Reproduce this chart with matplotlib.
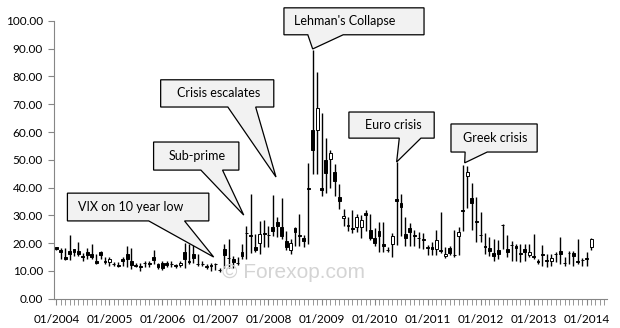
import matplotlib.pyplot as plt
from matplotlib.patches import Polygon

# monthly candles, first candle sits on the 01/2004 tick
opens = [18.5, 17.5, 15.1, 17.1, 17.9, 17.1, 15.5, 16.7, 16.0, 13.4, 16.9, 13.5,
         13.1, 12.6, 12.0, 14.3, 16.1, 13.7, 12.0, 11.7, 12.9, 12.9, 14.9, 12.5,
         12.7, 12.9, 12.6, 12.0, 12.1, 16.7, 13.5, 16.1, 12.6, 12.6, 11.4, 12.1,
         12.6, 10.5, 17.9, 14.7, 14.3, 12.9, 16.7, 23.7, 22.8, 18.7, 20.1, 23.6,
         23.1, 25.7, 27.5, 25.7, 20.9, 17.5, 25.4, 22.8, 21.9, 39.8, 60.7, 60.7,
         39.7, 49.9, 50.2, 45.5, 36.5, 29.1, 26.1, 25.4, 25.9, 25.9, 30.7, 24.6,
         21.8, 24.5, 19.8, 17.6, 19.8, 35.8, 34.5, 23.2, 25.3, 22.8, 21.9, 21.5,
         18.6, 18.7, 17.8, 17.4, 15.4, 18.2, 15.8, 22.6, 31.9, 44.3, 36.3, 27.8,
         23.1, 18.8, 18.3, 16.4, 17.5, 26.7, 17.9, 19.4, 19.1, 16.4, 17.9, 15.8,
         15.2, 13.4, 16.1, 13.8, 13.7, 16.2, 17.1, 13.0, 16.6, 16.6, 13.4, 14.0,
         14.6, 18.5]
highs = [18.7, 18.4, 18.1, 22.9, 18.0, 20.5, 16.5, 18.3, 19.8, 16.1, 17.0, 14.9,
         14.9, 13.1, 13.1, 14.9, 19.1, 18.1, 12.8, 12.8, 13.7, 13.7, 17.5, 12.9,
         13.7, 13.7, 13.7, 12.5, 13.7, 19.9, 19.7, 19.4, 16.1, 13.7, 12.5, 12.8,
         12.8, 11.2, 19.7, 21.5, 15.5, 14.9, 19.7, 26.3, 37.7, 23.3, 28.1, 28.5,
         26.3, 37.5, 29.3, 36.1, 24.5, 21.5, 25.7, 30.5, 23.0, 48.8, 89.6, 81.7,
         66.8, 57.8, 53.5, 48.6, 41.3, 32.3, 29.3, 32.0, 30.5, 30.0, 31.9, 30.5,
         25.3, 27.5, 27.5, 18.5, 23.5, 49.1, 37.7, 29.5, 27.3, 24.7, 24.1, 23.8,
         19.3, 20.5, 24.7, 31.3, 18.5, 18.9, 24.7, 25.9, 48.1, 47.8, 41.5, 36.5,
         31.1, 23.8, 22.1, 21.5, 21.2, 27.0, 23.0, 20.9, 19.7, 19.7, 19.7, 19.7,
         23.3, 14.3, 19.4, 16.1, 16.1, 16.7, 22.1, 14.9, 17.3, 17.3, 21.5, 14.6,
         16.7, 21.9]
lows = [17.5, 14.3, 13.9, 13.9, 15.4, 15.3, 13.7, 14.4, 14.3, 12.5, 14.4, 12.5,
        11.9, 11.9, 11.3, 11.9, 11.3, 10.7, 11.3, 9.9, 11.3, 11.3, 12.5, 10.7,
        10.4, 11.3, 11.3, 11.1, 11.3, 11.0, 12.5, 12.7, 11.9, 11.9, 10.7, 9.9,
        10.4, 9.7, 11.2, 11.2, 11.2, 12.2, 14.3, 14.3, 16.4, 16.7, 16.1, 18.5,
        18.5, 22.7, 22.1, 21.5, 17.5, 16.1, 19.1, 19.1, 18.5, 19.7, 44.9, 44.9,
        37.1, 37.9, 40.0, 37.1, 32.3, 26.3, 24.5, 23.7, 23.9, 22.0, 24.5, 21.0,
        18.8, 16.9, 16.9, 16.9, 15.1, 19.3, 22.4, 19.1, 19.1, 19.1, 18.1, 17.8,
        15.7, 15.7, 15.7, 16.6, 14.7, 15.7, 15.1, 15.7, 24.3, 32.5, 24.6, 20.3,
        20.3, 16.1, 15.2, 13.7, 14.3, 17.9, 14.9, 13.7, 13.7, 13.1, 13.7, 14.9,
        14.3, 12.5, 11.9, 11.3, 11.9, 13.1, 12.5, 11.9, 12.5, 11.9, 12.5, 11.9,
        11.9, 17.6]
closes = [17.9, 16.9, 14.4, 16.2, 16.8, 16.2, 14.9, 15.6, 15.0, 12.7, 15.9, 13.2,
          14.3, 12.4, 11.8, 13.7, 14.3, 12.3, 11.8, 11.5, 12.7, 12.5, 14.0, 11.3,
          11.1, 12.1, 12.4, 11.8, 12.7, 14.3, 13.2, 14.7, 12.4, 12.4, 11.6, 11.9,
          12.4, 10.3, 15.8, 14.5, 13.1, 12.7, 15.5, 23.5, 22.6, 17.5, 23.3, 23.4,
          22.9, 24.3, 26.3, 22.7, 18.7, 20.1, 23.9, 22.6, 20.7, 39.6, 53.5, 68.6,
          39.2, 45.3, 52.6, 42.5, 35.3, 29.9, 26.5, 25.1, 29.3, 28.4, 30.3, 22.0,
          20.2, 22.6, 19.0, 17.4, 22.6, 35.3, 32.9, 21.9, 23.9, 22.6, 21.7, 21.3,
          18.4, 17.8, 21.1, 17.2, 16.0, 16.3, 15.6, 24.1, 31.5, 45.5, 34.4, 27.5,
          22.9, 18.6, 17.1, 15.4, 16.1, 26.5, 16.7, 19.2, 18.3, 16.2, 16.7, 16.7,
          15.0, 13.2, 15.9, 13.6, 14.5, 16.0, 16.1, 12.8, 16.4, 15.5, 13.2, 13.8,
          14.4, 21.5]

year_labels = ["01/2004", "01/2005", "01/2006", "01/2007", "01/2008", "01/2009",
               "01/2010", "01/2011", "01/2012", "01/2013", "01/2014"]

# callouts: text, text x, box (x0, x1, y0, y1), tail base (xa, xb), tip (x, y)
callouts = [
    ("VIX on 10 year low", 4.8, (2.5, 34.5, 28.0, 38.0), (20.9, 29.0), (35.6, 15.0)),
    ("Sub-prime", 25.4, (22.0, 41.3, 46.3, 56.4), (32.7, 37.6), (42.4, 30.1)),
    ("Crisis escalates", 27.4, (23.6, 49.2, 69.0, 78.8), (38.8, 45.1), (49.7, 43.8)),
    ("Lehman's Collapse", 53.7, (51.5, 83.2, 95.0, 104.7), (56.9, 64.9), (58.0, 89.9)),
    ("Euro crisis", 69.8, (66.2, 85.5, 57.8, 67.2), (77.6, 82.5), (77.0, 49.2)),
    ("Greek crisis", 92.1, (89.3, 108.8, 52.8, 62.9), (92.5, 97.5), (92.4, 48.9)),
]

fig = plt.figure(figsize=(6.2, 3.28), dpi=100)
ax = fig.add_axes([0.087, 0.0893, 0.892, 0.847])

x = list(range(len(opens)))
ax.vlines(x, lows, highs, color="black", linewidth=1, zorder=2)
bottoms = [min(o, c) for o, c in zip(opens, closes)]
heights = [abs(c - o) for o, c in zip(opens, closes)]
colors = ["white" if c > o else "black" for o, c in zip(opens, closes)]
ax.bar(x, heights, bottom=bottoms, width=0.65, color=colors,
       edgecolor="black", linewidth=0.7, zorder=3)

ax.set_xlim(-0.55, 124.6)
ax.set_ylim(0, 100)
ax.set_yticks(range(0, 101, 10))
ax.set_yticklabels([f"{v:.2f}" for v in range(0, 101, 10)])
ax.set_xticks([12 * i for i in range(len(year_labels))])
ax.set_xticklabels(year_labels)
ax.set_xticks(range(0, 125), minor=True)

for s in ["top", "right"]:
    ax.spines[s].set_visible(False)
for s in ["left", "bottom"]:
    ax.spines[s].set_color("#868686")
ax.tick_params(axis="y", length=4, color="#868686", labelsize=8.5, pad=4)
ax.tick_params(axis="x", which="both", length=4, color="#868686", labelsize=8.5, pad=7)
for lab in ax.get_xticklabels() + ax.get_yticklabels():
    lab.set_family("Lato")

for text, tx, (x0, x1, y0, y1), (ba, bb), (px, py) in callouts:
    shape = [(x0, y0), (ba, y0), (px, py), (bb, y0), (x1, y0), (x1, y1), (x0, y1)]
    ax.add_patch(Polygon(shape, closed=True, facecolor="#f2f2f2", edgecolor="black",
                         linewidth=0.9, zorder=5, clip_on=False))
    ax.text(tx, (y0 + y1) / 2, text, ha="left", va="center", fontsize=9,
            family="Lato", zorder=6, clip_on=False)

fig.text(0.473, 0.168, "\u00a9 Forexop.com", ha="center", va="center", fontsize=15,
         color="#d4d4d4", family="Liberation Sans", zorder=0)

fig.savefig("out.png", dpi=100)
